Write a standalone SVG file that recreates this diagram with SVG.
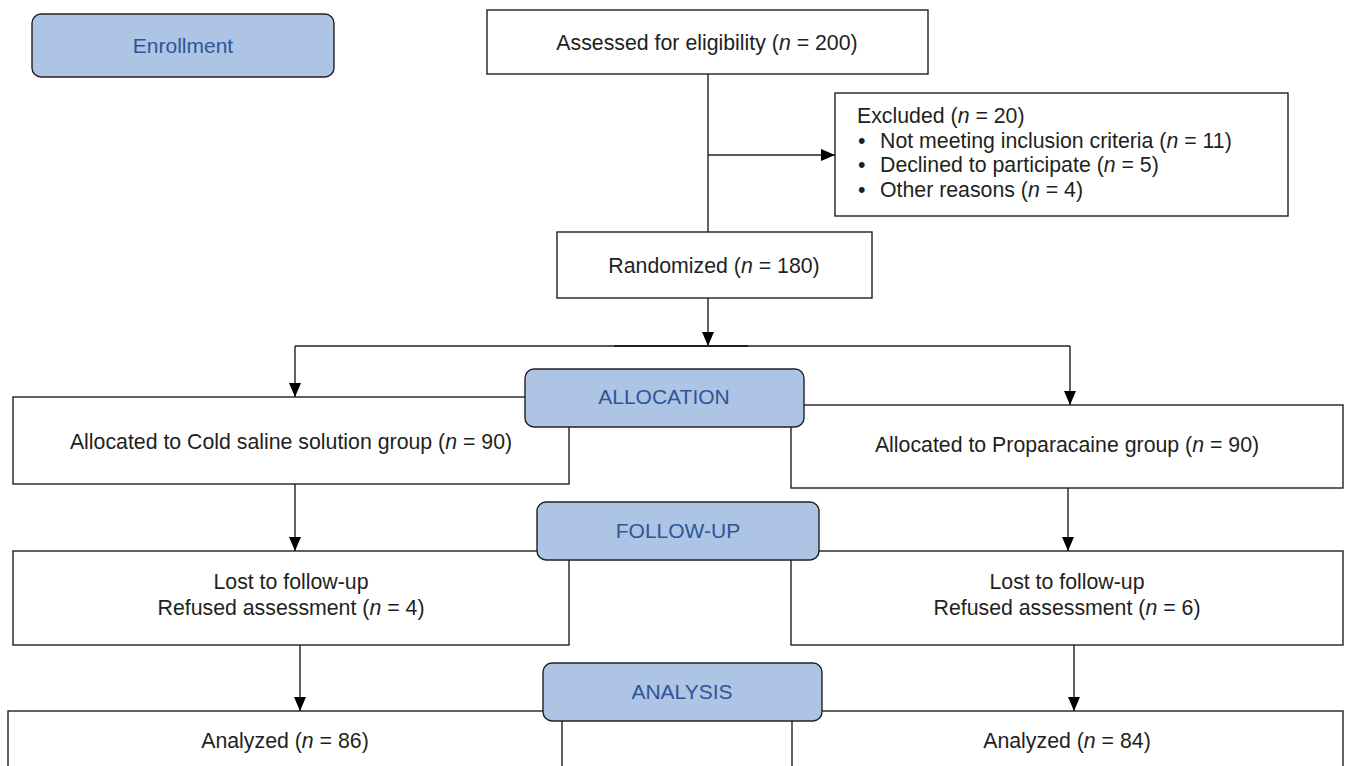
<svg xmlns="http://www.w3.org/2000/svg" width="1348" height="766" viewBox="0 0 1348 766">
<defs>
<style>
.box{fill:#ffffff;stroke:#231f20;stroke-width:1.4}
.lab{fill:#adc4e4;stroke:#231f20;stroke-width:1.4}
.t{font-family:"Liberation Sans",Arial,sans-serif;font-size:21.3px;fill:#231f20}
.tc{text-anchor:middle}
.lt{font-family:"Liberation Sans",Arial,sans-serif;font-size:21px;fill:#2f5597;text-anchor:middle}
.i{font-style:italic}
.c{fill:none;stroke:#231f20;stroke-width:1.4}
</style>
<marker id="ah" viewBox="0 0 14 12" refX="14" refY="6" markerWidth="14" markerHeight="12" markerUnits="userSpaceOnUse" orient="auto">
<path d="M0,0 L14,6 L0,12 Z" fill="#000000"/>
</marker>
</defs>
<rect width="1348" height="766" fill="#ffffff"/>

<g id="connectors">
<path class="c" d="M708,74 V232"/>
<path class="c" d="M708,155 H835" marker-end="url(#ah)"/>
<path class="c" d="M708,298 V346" marker-end="url(#ah)"/>
<path class="c" d="M295,346 H1070"/>
<path d="M614,346 H748" stroke="#231f20" stroke-width="2" fill="none"/>
<path class="c" d="M295,346 V397" marker-end="url(#ah)"/>
<path class="c" d="M1070,346 V405" marker-end="url(#ah)"/>
<path class="c" d="M295,484 V551" marker-end="url(#ah)"/>
<path class="c" d="M1068,488 V551" marker-end="url(#ah)"/>
<path class="c" d="M300,645 V711" marker-end="url(#ah)"/>
<path class="c" d="M1074,645 V711" marker-end="url(#ah)"/>
</g>

<g id="enrollment">
<rect class="lab" x="32" y="14" width="302" height="63" rx="9"/>
<text class="lt" x="183" y="53">Enrollment</text>
</g>

<g id="assessed">
<rect class="box" x="487" y="10" width="441" height="64"/>
<text class="t tc" x="707" y="49.5">Assessed for eligibility (<tspan class="i">n</tspan> = 200)</text>
</g>

<g id="excluded">
<rect class="box" x="835" y="93" width="453" height="123"/>
<text class="t" x="857" y="122.5">Excluded (<tspan class="i">n</tspan> = 20)</text>
<text class="t" x="858" y="147.5">•</text>
<text class="t" x="880" y="147.5">Not meeting inclusion criteria (<tspan class="i">n</tspan> = 11)</text>
<text class="t" x="858" y="171.5">•</text>
<text class="t" x="880" y="171.5">Declined to participate (<tspan class="i">n</tspan> = 5)</text>
<text class="t" x="858" y="196.5">•</text>
<text class="t" x="880" y="196.5">Other reasons (<tspan class="i">n</tspan> = 4)</text>
</g>

<g id="randomized">
<rect class="box" x="557" y="232" width="315" height="66"/>
<text class="t tc" x="714" y="272.5">Randomized (<tspan class="i">n</tspan> = 180)</text>
</g>

<g id="alloc-left">
<rect class="box" x="13" y="397" width="556" height="87"/>
<text class="t tc" x="291" y="448.5">Allocated to Cold saline solution group (<tspan class="i">n</tspan> = 90)</text>
</g>

<g id="alloc-right">
<rect class="box" x="791" y="405" width="552" height="83"/>
<text class="t tc" x="1067" y="451.5">Allocated to Proparacaine group (<tspan class="i">n</tspan> = 90)</text>
</g>

<g id="allocation">
<rect class="lab" x="525" y="369" width="279" height="58" rx="9"/>
<text class="lt" x="664" y="404">ALLOCATION</text>
</g>

<g id="followup-left">
<rect class="box" x="13" y="551" width="556" height="94"/>
<text class="t tc" x="291" y="588.5">Lost to follow-up</text>
<text class="t tc" x="291" y="614.5">Refused assessment (<tspan class="i">n</tspan> = 4)</text>
</g>

<g id="followup-right">
<rect class="box" x="791" y="551" width="552" height="94"/>
<text class="t tc" x="1067" y="588.5">Lost to follow-up</text>
<text class="t tc" x="1067" y="614.5">Refused assessment (<tspan class="i">n</tspan> = 6)</text>
</g>

<g id="followup">
<rect class="lab" x="537" y="502" width="282" height="58" rx="9"/>
<text class="lt" x="678" y="538">FOLLOW-UP</text>
</g>

<g id="analyzed-left">
<rect class="box" x="8" y="711" width="554" height="70"/>
<text class="t tc" x="285" y="747.5">Analyzed (<tspan class="i">n</tspan> = 86)</text>
</g>

<g id="analyzed-right">
<rect class="box" x="792" y="711" width="551" height="70"/>
<text class="t tc" x="1067" y="747.5">Analyzed (<tspan class="i">n</tspan> = 84)</text>
</g>

<g id="analysis">
<rect class="lab" x="543" y="663" width="279" height="58" rx="9"/>
<text class="lt" x="682" y="699">ANALYSIS</text>
</g>
</svg>
